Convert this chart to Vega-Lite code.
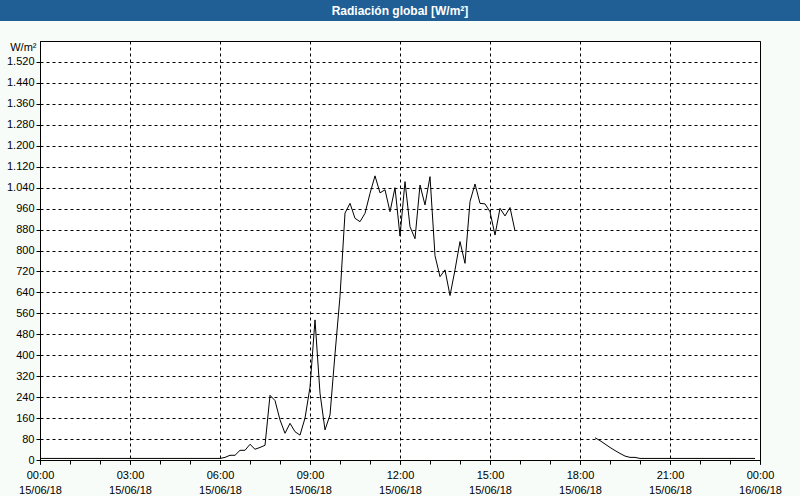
{
  "$schema": "https://vega.github.io/schema/vega-lite/v6.json",
  "background": "#f8fcf8",
  "padding": 0,
  "config": {"font": "Liberation Sans", "view": {"stroke": null}},
  "columns": 1,
  "spacing": 20,
  "bounds": "flush",
  "center": true,
  "concat": [
    {
      "width": 800,
      "height": 21,
      "data": {"values": [{"titulo": "Radiación global [W/m²]"}]},
      "view": {"fill": "#1f5f96", "stroke": null},
      "mark": {"type": "text", "color": "white", "fontWeight": "bold", "fontSize": 12, "font": "Liberation Sans", "baseline": "middle", "align": "center"},
      "encoding": {"text": {"field": "titulo"}}
    },
    {
      "width": 720,
      "height": 419,
      "data": {"values": [
        {"t": "2018-06-15T00:00", "v": 6}, {"t": "2018-06-15T00:10", "v": 6}, {"t": "2018-06-15T00:20", "v": 6}, {"t": "2018-06-15T00:30", "v": 6}, {"t": "2018-06-15T00:40", "v": 6}, {"t": "2018-06-15T00:50", "v": 6},
        {"t": "2018-06-15T01:00", "v": 6}, {"t": "2018-06-15T01:10", "v": 6}, {"t": "2018-06-15T01:20", "v": 6}, {"t": "2018-06-15T01:30", "v": 6}, {"t": "2018-06-15T01:40", "v": 6}, {"t": "2018-06-15T01:50", "v": 6},
        {"t": "2018-06-15T02:00", "v": 6}, {"t": "2018-06-15T02:10", "v": 6}, {"t": "2018-06-15T02:20", "v": 6}, {"t": "2018-06-15T02:30", "v": 6}, {"t": "2018-06-15T02:40", "v": 6}, {"t": "2018-06-15T02:50", "v": 6},
        {"t": "2018-06-15T03:00", "v": 6}, {"t": "2018-06-15T03:10", "v": 6}, {"t": "2018-06-15T03:20", "v": 6}, {"t": "2018-06-15T03:30", "v": 6}, {"t": "2018-06-15T03:40", "v": 6}, {"t": "2018-06-15T03:50", "v": 6},
        {"t": "2018-06-15T04:00", "v": 6}, {"t": "2018-06-15T04:10", "v": 6}, {"t": "2018-06-15T04:20", "v": 6}, {"t": "2018-06-15T04:30", "v": 6}, {"t": "2018-06-15T04:40", "v": 6}, {"t": "2018-06-15T04:50", "v": 6},
        {"t": "2018-06-15T05:00", "v": 6}, {"t": "2018-06-15T05:10", "v": 6}, {"t": "2018-06-15T05:20", "v": 6}, {"t": "2018-06-15T05:30", "v": 6}, {"t": "2018-06-15T05:40", "v": 6}, {"t": "2018-06-15T05:50", "v": 6},
        {"t": "2018-06-15T06:00", "v": 6}, {"t": "2018-06-15T06:10", "v": 10}, {"t": "2018-06-15T06:20", "v": 18}, {"t": "2018-06-15T06:30", "v": 18}, {"t": "2018-06-15T06:40", "v": 37}, {"t": "2018-06-15T06:50", "v": 37},
        {"t": "2018-06-15T07:00", "v": 60}, {"t": "2018-06-15T07:10", "v": 41}, {"t": "2018-06-15T07:20", "v": 48}, {"t": "2018-06-15T07:30", "v": 56}, {"t": "2018-06-15T07:40", "v": 247}, {"t": "2018-06-15T07:50", "v": 227},
        {"t": "2018-06-15T08:00", "v": 153}, {"t": "2018-06-15T08:10", "v": 102}, {"t": "2018-06-15T08:20", "v": 140}, {"t": "2018-06-15T08:30", "v": 108}, {"t": "2018-06-15T08:40", "v": 95}, {"t": "2018-06-15T08:50", "v": 160},
        {"t": "2018-06-15T09:00", "v": 278}, {"t": "2018-06-15T09:10", "v": 535}, {"t": "2018-06-15T09:20", "v": 255}, {"t": "2018-06-15T09:30", "v": 115}, {"t": "2018-06-15T09:40", "v": 172}, {"t": "2018-06-15T09:50", "v": 405},
        {"t": "2018-06-15T10:00", "v": 625}, {"t": "2018-06-15T10:10", "v": 943}, {"t": "2018-06-15T10:20", "v": 980}, {"t": "2018-06-15T10:30", "v": 923}, {"t": "2018-06-15T10:40", "v": 910}, {"t": "2018-06-15T10:50", "v": 942},
        {"t": "2018-06-15T11:00", "v": 1018}, {"t": "2018-06-15T11:10", "v": 1085}, {"t": "2018-06-15T11:20", "v": 1020}, {"t": "2018-06-15T11:30", "v": 1032}, {"t": "2018-06-15T11:40", "v": 948}, {"t": "2018-06-15T11:50", "v": 1040},
        {"t": "2018-06-15T12:00", "v": 855}, {"t": "2018-06-15T12:10", "v": 1063}, {"t": "2018-06-15T12:20", "v": 891}, {"t": "2018-06-15T12:30", "v": 845}, {"t": "2018-06-15T12:40", "v": 1050}, {"t": "2018-06-15T12:50", "v": 974},
        {"t": "2018-06-15T13:00", "v": 1082}, {"t": "2018-06-15T13:10", "v": 780}, {"t": "2018-06-15T13:20", "v": 700}, {"t": "2018-06-15T13:30", "v": 726}, {"t": "2018-06-15T13:40", "v": 628}, {"t": "2018-06-15T13:50", "v": 726},
        {"t": "2018-06-15T14:00", "v": 834}, {"t": "2018-06-15T14:10", "v": 751}, {"t": "2018-06-15T14:20", "v": 987}, {"t": "2018-06-15T14:30", "v": 1054}, {"t": "2018-06-15T14:40", "v": 980}, {"t": "2018-06-15T14:50", "v": 978},
        {"t": "2018-06-15T15:00", "v": 948}, {"t": "2018-06-15T15:10", "v": 859}, {"t": "2018-06-15T15:20", "v": 961}, {"t": "2018-06-15T15:30", "v": 932}, {"t": "2018-06-15T15:40", "v": 964}, {"t": "2018-06-15T15:50", "v": 875},
        {"t": "2018-06-15T16:00", "v": null}, {"t": "2018-06-15T16:10", "v": null}, {"t": "2018-06-15T16:20", "v": null}, {"t": "2018-06-15T16:30", "v": null}, {"t": "2018-06-15T16:40", "v": null}, {"t": "2018-06-15T16:50", "v": null},
        {"t": "2018-06-15T17:00", "v": null}, {"t": "2018-06-15T17:10", "v": null}, {"t": "2018-06-15T17:20", "v": null}, {"t": "2018-06-15T17:30", "v": null}, {"t": "2018-06-15T17:40", "v": null}, {"t": "2018-06-15T17:50", "v": null},
        {"t": "2018-06-15T18:00", "v": null}, {"t": "2018-06-15T18:10", "v": null}, {"t": "2018-06-15T18:20", "v": null}, {"t": "2018-06-15T18:30", "v": 85}, {"t": "2018-06-15T18:40", "v": 74}, {"t": "2018-06-15T18:50", "v": 61},
        {"t": "2018-06-15T19:00", "v": 48}, {"t": "2018-06-15T19:10", "v": 36}, {"t": "2018-06-15T19:20", "v": 25}, {"t": "2018-06-15T19:30", "v": 15}, {"t": "2018-06-15T19:40", "v": 10}, {"t": "2018-06-15T19:50", "v": 10},
        {"t": "2018-06-15T20:00", "v": 6}, {"t": "2018-06-15T20:10", "v": 6}, {"t": "2018-06-15T20:20", "v": 6}, {"t": "2018-06-15T20:30", "v": 6}, {"t": "2018-06-15T20:40", "v": 6}, {"t": "2018-06-15T20:50", "v": 6},
        {"t": "2018-06-15T21:00", "v": 6}, {"t": "2018-06-15T21:10", "v": 6}, {"t": "2018-06-15T21:20", "v": 6}, {"t": "2018-06-15T21:30", "v": 6}, {"t": "2018-06-15T21:40", "v": 6}, {"t": "2018-06-15T21:50", "v": 6},
        {"t": "2018-06-15T22:00", "v": 6}, {"t": "2018-06-15T22:10", "v": 6}, {"t": "2018-06-15T22:20", "v": 6}, {"t": "2018-06-15T22:30", "v": 6}, {"t": "2018-06-15T22:40", "v": 6}, {"t": "2018-06-15T22:50", "v": 6},
        {"t": "2018-06-15T23:00", "v": 6}, {"t": "2018-06-15T23:10", "v": 6}, {"t": "2018-06-15T23:20", "v": 6}, {"t": "2018-06-15T23:30", "v": 6}, {"t": "2018-06-15T23:40", "v": 6}, {"t": "2018-06-15T23:50", "v": 6}
      ]},
      "view": {"fill": "white", "stroke": "black", "strokeWidth": 1},
      "encoding": {
        "y": {
          "field": "v", "type": "quantitative",
          "scale": {"domain": [0, 1600], "nice": false},
          "axis": {
            "title": "W/m²", "titleAngle": 0, "titleAlign": "right", "titleBaseline": "middle",
            "titleX": -4, "titleY": 6, "titleFontWeight": "normal", "titleFontSize": 11, "titleColor": "black",
            "values": [0, 80, 160, 240, 320, 400, 480, 560, 640, 720, 800, 880, 960, 1040, 1120, 1200, 1280, 1360, 1440, 1520],
            "labelExpr": "replace(format(datum.value, ',d'), ',', '.')",
            "labelFontSize": 11, "labelColor": "black", "labelPadding": 2, "labelFlush": false, "labelOverlap": false,
            "tickSize": 4, "tickColor": "black", "domainColor": "black",
            "grid": true, "gridColor": "black", "gridDash": [3, 3]
          }
        }
      },
      "layer": [
        {
          "mark": {"type": "line", "color": "black", "strokeWidth": 1},
          "encoding": {
            "x": {
              "field": "t", "type": "temporal",
              "scale": {"domain": [{"year": 2018, "month": 6, "date": 15, "hours": 0}, {"year": 2018, "month": 6, "date": 16, "hours": 0}], "nice": false},
              "axis": {
                "orient": "bottom", "title": null, "labels": false, "grid": false,
                "values": [
                  {"year": 2018, "month": 6, "date": 15, "hours": 0}, {"year": 2018, "month": 6, "date": 15, "hours": 1}, {"year": 2018, "month": 6, "date": 15, "hours": 2},
                  {"year": 2018, "month": 6, "date": 15, "hours": 3}, {"year": 2018, "month": 6, "date": 15, "hours": 4}, {"year": 2018, "month": 6, "date": 15, "hours": 5},
                  {"year": 2018, "month": 6, "date": 15, "hours": 6}, {"year": 2018, "month": 6, "date": 15, "hours": 7}, {"year": 2018, "month": 6, "date": 15, "hours": 8},
                  {"year": 2018, "month": 6, "date": 15, "hours": 9}, {"year": 2018, "month": 6, "date": 15, "hours": 10}, {"year": 2018, "month": 6, "date": 15, "hours": 11},
                  {"year": 2018, "month": 6, "date": 15, "hours": 12}, {"year": 2018, "month": 6, "date": 15, "hours": 13}, {"year": 2018, "month": 6, "date": 15, "hours": 14},
                  {"year": 2018, "month": 6, "date": 15, "hours": 15}, {"year": 2018, "month": 6, "date": 15, "hours": 16}, {"year": 2018, "month": 6, "date": 15, "hours": 17},
                  {"year": 2018, "month": 6, "date": 15, "hours": 18}, {"year": 2018, "month": 6, "date": 15, "hours": 19}, {"year": 2018, "month": 6, "date": 15, "hours": 20},
                  {"year": 2018, "month": 6, "date": 15, "hours": 21}, {"year": 2018, "month": 6, "date": 15, "hours": 22}, {"year": 2018, "month": 6, "date": 15, "hours": 23},
                  {"year": 2018, "month": 6, "date": 16, "hours": 0}
                ],
                "tickSize": 4, "tickColor": "black", "domainColor": "black"
              }
            }
          }
        },
        {
          "mark": {"type": "line", "opacity": 0},
          "encoding": {
            "x": {
              "field": "t", "type": "temporal",
              "scale": {"domain": [{"year": 2018, "month": 6, "date": 15, "hours": 0}, {"year": 2018, "month": 6, "date": 16, "hours": 0}], "nice": false},
              "axis": {
                "orient": "bottom", "title": null, "domain": false,
                "values": [
                  {"year": 2018, "month": 6, "date": 15, "hours": 0}, {"year": 2018, "month": 6, "date": 15, "hours": 3}, {"year": 2018, "month": 6, "date": 15, "hours": 6},
                  {"year": 2018, "month": 6, "date": 15, "hours": 9}, {"year": 2018, "month": 6, "date": 15, "hours": 12}, {"year": 2018, "month": 6, "date": 15, "hours": 15},
                  {"year": 2018, "month": 6, "date": 15, "hours": 18}, {"year": 2018, "month": 6, "date": 15, "hours": 21}, {"year": 2018, "month": 6, "date": 16, "hours": 0}
                ],
                "format": "%H:%M",
                "labelFlush": false, "labelOverlap": false, "labelFontSize": 11, "labelColor": "black", "labelPadding": 5,
                "tickSize": 4, "tickColor": "black",
                "grid": true, "gridColor": "black", "gridDash": [3, 3]
              }
            }
          }
        },
        {
          "mark": {"type": "line", "opacity": 0},
          "encoding": {
            "x": {
              "field": "t", "type": "temporal",
              "scale": {"domain": [{"year": 2018, "month": 6, "date": 15, "hours": 0}, {"year": 2018, "month": 6, "date": 16, "hours": 0}], "nice": false},
              "axis": {
                "orient": "bottom", "title": null, "domain": false, "grid": false,
                "values": [
                  {"year": 2018, "month": 6, "date": 15, "hours": 0}, {"year": 2018, "month": 6, "date": 15, "hours": 3}, {"year": 2018, "month": 6, "date": 15, "hours": 6},
                  {"year": 2018, "month": 6, "date": 15, "hours": 9}, {"year": 2018, "month": 6, "date": 15, "hours": 12}, {"year": 2018, "month": 6, "date": 15, "hours": 15},
                  {"year": 2018, "month": 6, "date": 15, "hours": 18}, {"year": 2018, "month": 6, "date": 15, "hours": 21}, {"year": 2018, "month": 6, "date": 16, "hours": 0}
                ],
                "format": "%d/%m/%y",
                "labelFlush": false, "labelOverlap": false, "labelFontSize": 11, "labelColor": "black", "labelPadding": 20,
                "tickSize": 4, "tickColor": "black"
              }
            }
          }
        }
      ],
      "resolve": {"axis": {"x": "independent"}}
    }
  ]
}
